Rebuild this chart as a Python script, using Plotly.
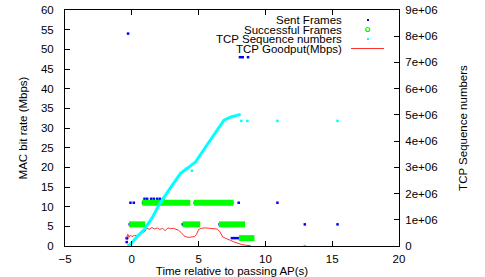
import plotly.graph_objects as go

# ---- data ----
# Sent frames: continuous runs (rate Mbps, start s, end s) and isolated frames
sent_run_rate = [5.5, 5.5, 5.5, 2, 48, 11, 11]
sent_run_start = [-0.25, 3.72, 6.48, 7.40, 8.00, 0.75, 4.62]
sent_run_end = [0.95, 5.10, 8.45, 9.15, 8.40, 4.35, 7.60]
sent_pt_t = [-0.28, -0.38, -0.38, -0.35, 0.95, 1.15, 1.45, 1.65, 1.9, 2.1, 2.35, 8.7, 8.0, 10.9, 12.95, 15.4, -0.1, 0.15]
sent_pt_rate = [54, 1, 2, 2, 12, 12, 12, 12, 12, 12, 12, 48, 11, 11, 5.5, 5.5, 11, 11]

# Successful frames: continuous runs and isolated frames
succ_run_rate = [11, 11, 5.5, 5.5, 5.5, 2]
succ_run_start = [0.78, 4.65, -0.2, 3.80, 6.52, 8.02]
succ_run_end = [4.38, 7.62, 1.0, 5.12, 8.48, 9.18]
succ_pt_t = [-0.27, -0.24, -0.21, -0.1, 0.15, 0.4, 1.0, 1.45, 1.7, 2.1, 2.65, 3.15, -0.35, -0.35, 7.65, 8.5, 5.12, 9.18]
succ_pt_rate = [54, 48, 48, 11, 11, 11, 12, 12, 12, 12, 1, 1, 1, 2, 11, 5.5, 5.5, 2]

# TCP sequence numbers (right axis)
tcp_t = [-0.3, 0.0, 0.4, 0.9, 1.5, 2.03, 2.8, 3.65, 4.28, 4.78, 5.4, 6.4, 6.9, 7.43, 8.15]
tcp_seq = [0, 0.12e6, 0.36e6, 0.61e6, 1.05e6, 1.56e6, 2.15e6, 2.77e6, 3.01e6, 3.21e6, 3.68e6, 4.42e6, 4.8e6, 4.92e6, 5.02e6]
tcp_pt_t = [4.5, 8.2, 8.65, 10.9, 15.4, 12.95]
tcp_pt_seq = [2.87e6, 4.77e6, 4.77e6, 4.77e6, 4.77e6, 0.0]

# TCP goodput (Mbps)
gp_t = [-0.4, -0.3, -0.2, -0.1, 0.0, 0.2, 0.4, 0.6, 0.8, 1.0, 1.1, 1.3, 1.5, 1.7, 1.9, 2.1, 2.3, 2.5,
        2.7, 2.9, 3.1, 3.3, 3.5, 3.7, 3.9, 4.1, 4.3, 4.5, 4.7, 4.85, 5.0, 5.2, 5.5, 5.8, 6.1, 6.4,
        6.6, 6.8, 7.0, 7.2, 7.4, 7.6, 7.8, 8.0, 8.2, 8.5, 8.9]
gp_v = [2.0, 3.0, 2.2, 2.8, 2.4, 2.7, 2.6, 3.0, 3.2, 3.8, 4.6, 4.2, 4.7, 4.3, 4.6, 4.2, 4.5, 3.9,
        4.6, 4.4, 4.5, 4.2, 4.0, 3.4, 2.6, 2.3, 2.2, 2.3, 2.4, 3.0, 4.2, 4.5, 4.6, 4.5, 4.4, 4.3,
        3.6, 2.3, 2.0, 1.8, 1.4, 1.1, 0.8, 0.5, 0.4, 0.2, 0.1]

x_ticks = [-5, 0, 5, 10, 15, 20]
y_ticks = [0, 5, 10, 15, 20, 25, 30, 35, 40, 45, 50, 55, 60]
y2_ticks = [0, 1e6, 2e6, 3e6, 4e6, 5e6, 6e6, 7e6, 8e6, 9e6]
y2_labels = ["0", "1e+06", "2e+06", "3e+06", "4e+06", "5e+06", "6e+06", "7e+06", "8e+06", "9e+06"]
legend_names = ["Sent Frames", "Successful Frames", "TCP Sequence numbers", "TCP Goodput(Mbps)"]

BLUE = "#0000ff"
GREEN = "#00ff00"
CYAN = "#00ffff"
RED = "#ff3030"
FONT = "Liberation Sans, Arial, sans-serif"
FS = 11.5


def runs_to_xy(rates, starts, ends):
    xs, ys = [], []
    for r, a, b in zip(rates, starts, ends):
        xs += [a, b, None]
        ys += [r, r, None]
    return xs, ys


fig = go.Figure()

sx, sy = runs_to_xy(sent_run_rate, sent_run_start, sent_run_end)
fig.add_trace(go.Scatter(x=sx, y=sy, mode="lines", line=dict(color=BLUE, width=2.5),
                         showlegend=False, hoverinfo="skip"))
fig.add_trace(go.Scatter(x=sent_pt_t, y=sent_pt_rate, mode="markers",
                         marker=dict(color=BLUE, size=2.5, symbol="square"), showlegend=False))

gx, gy = runs_to_xy(succ_run_rate, succ_run_start, succ_run_end)
fig.add_trace(go.Scatter(x=gx, y=gy, mode="lines", line=dict(color=GREEN, width=6),
                         showlegend=False, hoverinfo="skip"))
fig.add_trace(go.Scatter(x=succ_pt_t, y=succ_pt_rate, mode="markers",
                         marker=dict(color="rgba(0,0,0,0)", size=5, symbol="circle-open",
                                     line=dict(color=GREEN, width=1.2)), showlegend=False))

fig.add_trace(go.Scatter(x=gp_t, y=gp_v, mode="lines", line=dict(color=RED, width=1),
                         showlegend=False))

fig.add_trace(go.Scatter(x=tcp_t, y=tcp_seq, mode="lines", line=dict(color=CYAN, width=3),
                         yaxis="y2", showlegend=False))
fig.add_trace(go.Scatter(x=tcp_pt_t, y=tcp_pt_seq, mode="markers",
                         marker=dict(color=CYAN, size=2.5, symbol="square"),
                         yaxis="y2", showlegend=False))

# manual gnuplot-style legend (text right, sample on the right)
L, R, T, B = 65, 399, 10, 246
W, H = R - L, B - T


def px(x):
    return (x - L) / W


def py(y):
    return (B - y) / H


leg_y = [20, 29.5, 39, 48.5]
for name, yy in zip(legend_names, leg_y):
    fig.add_annotation(x=px(344), y=py(yy), xref="paper", yref="paper", text=name,
                       showarrow=False, xanchor="right", yanchor="middle",
                       font=dict(family=FONT, size=FS, color="#000000"))
fig.add_shape(type="rect", xref="paper", yref="paper", x0=px(367), x1=px(369),
              y0=py(21), y1=py(19), fillcolor=BLUE, line=dict(width=0))
fig.add_shape(type="circle", xref="paper", yref="paper", x0=px(365.7), x1=px(369.7),
              y0=py(31.5), y1=py(27.5), line=dict(color=GREEN, width=1.2))
fig.add_shape(type="rect", xref="paper", yref="paper", x0=px(367), x1=px(369),
              y0=py(40), y1=py(38), fillcolor=CYAN, line=dict(width=0))
fig.add_shape(type="line", xref="paper", yref="paper", x0=px(351), x1=px(384),
              y0=py(48.5), y1=py(48.5), line=dict(color=RED, width=1))

axis_common = dict(showgrid=False, zeroline=False, showline=True, linecolor="#000000",
                   linewidth=1, ticks="inside", ticklen=5, tickcolor="#000000",
                   automargin=False,
                   tickfont=dict(family=FONT, size=FS, color="#000000"))

fig.update_layout(
    width=485, height=277,
    margin=dict(l=L, r=485 - R, t=T, b=277 - B),
    paper_bgcolor="#ffffff", plot_bgcolor="#ffffff",
    font=dict(family=FONT, size=FS, color="#000000"),
    showlegend=False,
    xaxis=dict(range=[-5, 20], tickvals=x_ticks, mirror="ticks",
               title=dict(text="Time relative to passing AP(s)", standoff=0,
                          font=dict(family=FONT, size=FS)),
               ticklabelstandoff=2, **axis_common),
    yaxis=dict(range=[0, 60], tickvals=y_ticks, mirror=False,
               title=dict(text="MAC bit rate (Mbps)", standoff=10,
                          font=dict(family=FONT, size=FS)),
               ticklabelstandoff=8, **axis_common),
    yaxis2=dict(range=[0, 9e6], tickvals=y2_ticks, ticktext=y2_labels, overlaying="y",
                side="right",
                title=dict(text="TCP Sequence numbers", standoff=22,
                           font=dict(family=FONT, size=FS)),
                ticklabelstandoff=3, **axis_common),
)

fig.write_html("out.html", config={"displayModeBar": False},
               post_script="document.body.style.margin='0';document.body.style.overflow='hidden';")
